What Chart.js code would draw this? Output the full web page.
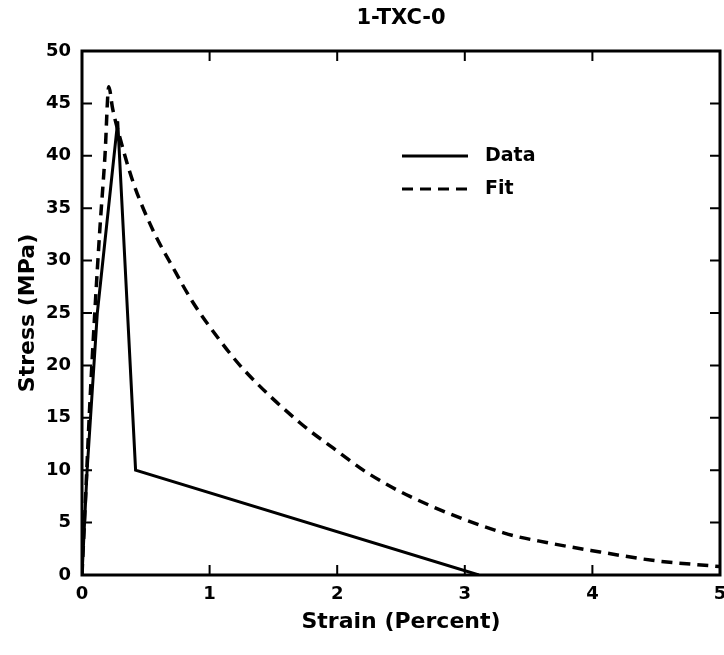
<!DOCTYPE html>
<html>
<head>
<meta charset="utf-8">
<script src="https://cdn.jsdelivr.net/npm/chart.js@4.4.1/dist/chart.umd.min.js"></script>
<style>
    html, body { margin: 0; padding: 0; background: #fff; }
    #wrap { width: 724px; height: 655px; }
</style>
</head>
<body>
<div id="wrap"><canvas id="stressChart"></canvas></div>
<script>
// Measured curve (solid)
const dataStrain = [0, 0.04, 0.12, 0.28, 0.42, 3.11];
const dataStress = [0, 10, 25, 43.3, 10, 0];

// Fitted curve (dashed)
const fitStrain = [0, 0.03, 0.06, 0.10, 0.14, 0.18, 0.21, 0.24, 0.30, 0.40, 0.56, 0.71, 0.87, 1.08, 1.26, 1.71, 1.97, 2.23, 2.57, 3.31, 3.64, 4.06, 4.47, 5.0];
const fitStress = [0, 8, 16, 25, 33, 40, 46.6, 44.5, 41.6, 37.5, 32.8, 29.4, 26.0, 22.4, 19.7, 14.5, 12.1, 9.8, 7.5, 4.0, 3.1, 2.2, 1.4, 0.8];

const seriesLabels = ['Data', 'Fit'];
const chartTitle = '1-TXC-0';
const xTitle = 'Strain (Percent)';
const yTitle = 'Stress (MPa)';

const FONT = "'DejaVu Sans', sans-serif";

function toPoints(xs, ys) {
    return xs.map((x, i) => ({ x: x, y: ys[i] }));
}

// draws the frame, inward ticks, title and the in-plot legend
const framePlugin = {
    id: 'frame',
    afterDraw(chart) {
        const ctx = chart.ctx;
        const area = chart.chartArea;
        const xs = chart.scales.x;
        const ys = chart.scales.y;
        const tick = 10;

        ctx.save();
        ctx.strokeStyle = '#000';
        ctx.lineWidth = 3;
        ctx.strokeRect(area.left, area.top, area.right - area.left, area.bottom - area.top);

        ctx.lineWidth = 2;
        ctx.beginPath();
        xs.ticks.forEach(t => {
            if (t.value <= xs.min || t.value >= xs.max) return;
            const px = xs.getPixelForValue(t.value);
            ctx.moveTo(px, area.bottom);
            ctx.lineTo(px, area.bottom - tick);
            ctx.moveTo(px, area.top);
            ctx.lineTo(px, area.top + tick);
        });
        ys.ticks.forEach(t => {
            if (t.value <= ys.min || t.value >= ys.max) return;
            const py = ys.getPixelForValue(t.value);
            ctx.moveTo(area.left, py);
            ctx.lineTo(area.left + tick, py);
            ctx.moveTo(area.right, py);
            ctx.lineTo(area.right - tick, py);
        });
        ctx.stroke();

        // title
        ctx.fillStyle = '#000';
        ctx.font = 'bold 21px ' + FONT;
        ctx.textAlign = 'center';
        ctx.textBaseline = 'middle';
        ctx.fillText(chartTitle, (area.left + area.right) / 2, 19);

        // legend
        const lx = 402, lw = 66;
        const rows = [156, 189];
        chart.data.datasets.forEach((ds, i) => {
            const y = rows[i];
            ctx.beginPath();
            ctx.lineWidth = 3;
            ctx.setLineDash(ds.borderDash || []);
            ctx.moveTo(lx, y);
            ctx.lineTo(lx + lw, y);
            ctx.stroke();
            ctx.setLineDash([]);
            ctx.font = 'bold 19px ' + FONT;
            ctx.textAlign = 'left';
            ctx.fillText(ds.label, 485, y);
        });
        ctx.restore();
    }
};

new Chart(document.getElementById('stressChart'), {
    type: 'scatter',
    data: {
        datasets: [
            {
                label: seriesLabels[0],
                data: toPoints(dataStrain, dataStress),
                showLine: true,
                borderColor: '#000',
                borderWidth: 3,
                pointRadius: 0,
                tension: 0
            },
            {
                label: seriesLabels[1],
                data: toPoints(fitStrain, fitStress),
                showLine: true,
                borderColor: '#000',
                borderWidth: 3.5,
                borderDash: [11, 7],
                pointRadius: 0,
                cubicInterpolationMode: 'monotone'
            }
        ]
    },
    options: {
        responsive: true,
        maintainAspectRatio: false,
        animation: false,
        layout: { padding: { top: 51, right: 4, left: 0, bottom: 0 } },
        scales: {
            x: {
                type: 'linear',
                min: 0,
                max: 5,
                grid: { display: false },
                border: { display: false },
                ticks: {
                    stepSize: 1,
                    color: '#000',
                    padding: 1,
                    maxRotation: 0,
                    font: { family: FONT, size: 18, weight: 'bold' }
                },
                title: {
                    display: true,
                    text: xTitle,
                    color: '#000',
                    padding: { top: 0, bottom: 20 },
                    font: { family: FONT, size: 22, weight: 'bold' }
                },
                afterFit(scale) {
                    scale.height = 80;
                    scale.paddingLeft = 0;
                    scale.paddingRight = 0;
                }
            },
            y: {
                type: 'linear',
                min: 0,
                max: 50,
                grid: { display: false },
                border: { display: false },
                ticks: {
                    stepSize: 5,
                    color: '#000',
                    padding: 3,
                    font: { family: FONT, size: 18, weight: 'bold' }
                },
                title: {
                    display: true,
                    text: yTitle,
                    color: '#000',
                    padding: { top: 15, bottom: 0 },
                    font: { family: FONT, size: 22, weight: 'bold' }
                },
                afterFit(scale) {
                    scale.width = 82;
                    scale.paddingTop = 0;
                    scale.paddingBottom = 0;
                }
            }
        },
        plugins: {
            legend: { display: false },
            title: { display: false },
            tooltip: { enabled: false }
        }
    },
    plugins: [framePlugin]
});
</script>
</body>
</html>
